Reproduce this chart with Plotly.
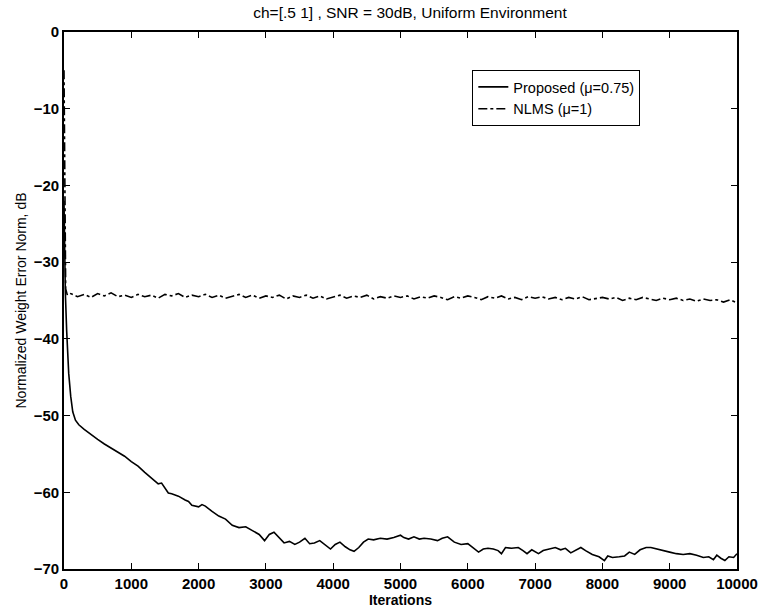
import plotly.graph_objects as go

# ---- data ----
proposed_iter = [
    0, 8, 20, 40, 70, 100, 130, 170, 220, 300,
    400, 500, 600, 700, 800, 900, 1000, 1100, 1200, 1300,
    1400, 1450, 1500, 1550, 1600, 1700, 1800, 1850, 1900, 1950,
    2000, 2050, 2100, 2200, 2300, 2400, 2500, 2600, 2700, 2800,
    2900, 2980, 3050, 3120, 3200, 3270, 3350, 3430, 3500, 3580,
    3650, 3720, 3800, 3880, 3960, 4030, 4100, 4180, 4250, 4310,
    4380, 4450, 4520, 4600, 4700, 4800, 4900, 5000, 5050, 5120,
    5200, 5280, 5350, 5450, 5550, 5620, 5700, 5800, 5900, 6000,
    6080, 6160, 6230, 6300, 6380, 6450, 6500, 6560, 6650, 6750,
    6820, 6880, 6950, 7050, 7120, 7200, 7300, 7380, 7450, 7530,
    7600, 7680, 7750, 7850, 7950, 8030, 8080, 8150, 8250, 8330,
    8400, 8480, 8560, 8650, 8720, 8800, 8900, 9000, 9100, 9200,
    9300, 9400, 9500, 9580, 9650, 9700, 9760, 9820, 9880, 9950,
    10000,
]
proposed_db = [
    -22.0, -28.0, -34.0, -39.0, -44.5, -47.5, -49.5, -50.6, -51.2, -51.8,
    -52.5, -53.1, -53.7, -54.2, -54.7, -55.3, -56.0, -56.6, -57.4, -58.2,
    -58.9, -58.8, -59.5, -60.1, -60.2, -60.5, -61.0, -61.2, -61.7, -61.8,
    -61.9, -61.6, -61.8, -62.5, -63.1, -63.5, -64.3, -64.6, -64.5, -65.0,
    -65.5, -66.3, -65.5, -65.2, -65.9, -66.6, -66.4, -66.8, -66.5, -66.0,
    -66.7, -66.6, -66.3, -66.9, -67.4, -66.8, -66.5, -67.1, -67.5, -67.7,
    -67.2, -66.5, -66.1, -66.2, -66.0, -66.1, -65.9, -65.6, -65.9, -66.1,
    -65.8, -66.1, -66.0, -66.1, -66.3, -66.0, -65.8, -66.5, -66.8, -66.7,
    -67.2, -67.8, -67.4, -67.3, -67.4, -67.6, -68.0, -67.2, -67.3, -67.2,
    -67.6, -68.0, -67.5, -68.0, -67.6, -67.4, -67.2, -67.5, -67.3, -67.9,
    -67.6, -67.2, -67.6, -68.1, -68.4, -68.9, -68.3, -68.5, -68.4, -68.3,
    -67.8, -68.1, -67.5, -67.2, -67.2, -67.4, -67.6, -67.8, -68.0, -68.1,
    -68.0, -68.2, -68.5, -68.4, -68.8, -68.2, -68.6, -68.9, -68.4, -68.5,
    -68.0,
]

nlms_iter = [0, 10, 25, 50] + list(range(100, 10001, 100))
nlms_db = [
    -5.0, -22.0, -33.5, -34.3,
    -34.1, -34.5, -34.2, -34.6, -34.1, -34.4, -34.0, -34.5, -34.3, -34.6,
    -34.2, -34.5, -34.3, -34.7, -34.2, -34.4, -34.1, -34.6, -34.3, -34.5,
    -34.2, -34.6, -34.3, -34.7, -34.4, -34.2, -34.6, -34.3, -34.7, -34.4,
    -34.6, -34.3, -34.8, -34.4, -34.6, -34.3, -34.7, -34.4, -34.8, -34.5,
    -34.3, -34.7, -34.4, -34.6, -34.3, -34.8, -34.5, -34.7, -34.4, -34.6,
    -34.4, -34.8, -34.5, -34.7, -34.4, -34.6, -34.9, -34.5, -34.7, -34.4,
    -34.6, -34.9, -34.5, -34.7, -34.4, -34.8, -34.6, -34.9, -34.5, -34.7,
    -34.5, -34.8, -34.6, -34.9, -34.6, -34.8, -34.5, -34.9, -34.7, -34.6,
    -34.8, -34.6, -35.0, -34.7, -34.9, -34.6, -34.8, -35.0, -34.7, -34.9,
    -34.7, -35.0, -34.8, -35.1, -34.8, -35.0, -34.9, -35.2, -34.9, -35.3,
]

x_ticks = [0, 1000, 2000, 3000, 4000, 5000, 6000, 7000, 8000, 9000, 10000]
y_ticks = [0, -10, -20, -30, -40, -50, -60, -70]

title_text = "ch=[.5 1] , SNR = 30dB, Uniform Environment"
x_title = "Iterations"
y_title = "Normalized Weight Error Norm, dB"
name_proposed = "Proposed (\u03bc=0.75)"
name_nlms = "NLMS (\u03bc=1)"

FONT = "Liberation Sans, Arial, sans-serif"

fig = go.Figure()
fig.add_trace(go.Scatter(
    x=proposed_iter, y=proposed_db, mode="lines", name=name_proposed,
    line=dict(color="black", width=1.6, dash="solid"),
))
fig.add_trace(go.Scatter(
    x=nlms_iter, y=nlms_db, mode="lines", name=name_nlms,
    line=dict(color="black", width=1.6, dash="dashdot"),
))

axis_common = dict(
    showgrid=False, zeroline=False, showline=True, linecolor="black",
    linewidth=1.6, mirror="ticks", ticks="inside", ticklen=6,
    tickcolor="black", tickwidth=1.2,
    tickfont=dict(family=FONT, size=15, color="black", weight="bold"),
)

fig.update_layout(
    width=770, height=615,
    margin=dict(l=64, r=22, t=32, b=45),
    paper_bgcolor="white", plot_bgcolor="white",
    font=dict(family=FONT, color="black"),
    title=dict(text=title_text, x=410 / 770, xanchor="center",
               y=1 - 13 / 615, yanchor="middle", yref="container",
               font=dict(family=FONT, size=15.5, color="black")),
    xaxis=dict(range=[0, 10000], tickvals=x_ticks,
               ticktext=[str(v) for v in x_ticks],
               title=dict(text=x_title, standoff=1,
                          font=dict(family=FONT, size=14, color="black", weight="bold")),
               **axis_common),
    yaxis=dict(range=[-70, 0], tickvals=y_ticks,
               title=dict(text=y_title, standoff=4,
                          font=dict(family=FONT, size=14, color="black")),
               **axis_common),
    legend=dict(x=(479 - 64) / 684, y=1 - (70 - 32) / 538, xanchor="left", yanchor="top",
                bgcolor="white", bordercolor="black", borderwidth=1,
                font=dict(family=FONT, size=14.5, color="black"),
                tracegroupgap=0, itemwidth=30),
    showlegend=True,
)

fig.write_html("out.html")
